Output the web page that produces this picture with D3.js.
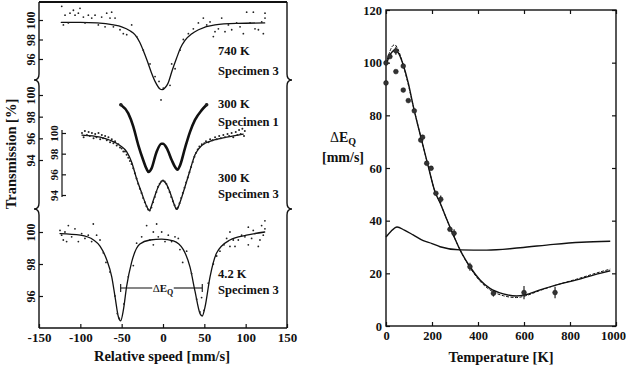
<!DOCTYPE html>
<html>
<head>
<meta charset="utf-8">
<script src="https://cdn.jsdelivr.net/npm/d3@7"></script>
<style>
  body { margin: 0; background: #fff; }
  svg text { font-family: "Liberation Serif", Tinos, "Times New Roman", Times, "DejaVu Serif", serif !important; font-weight: bold; fill: #111; }
</style>
</head>
<body>
<svg id="chart" width="626" height="366"></svg>
<script>
// ---- left panel: Mossbauer spectra, [velocity mm/s, transmission %] ----
const spec740Pts = [[-122.5,101.4],[-118.5,100.5],[-120.5,99.5],[-114.5,99.7],[-112.5,100.7],[-108.4,101.0],
  [-106.4,100.5],[-102.4,100.7],[-100.4,101.2],[-96.3,100.3],[-94.3,99.7],[-90.3,100.5],[-86.2,100.2],
  [-82.2,100.5],[-78.2,99.5],[-74.2,100.3],[-70.1,99.3],[-68.1,100.7],[-64.1,100.2],[-62.1,100.8],
  [-60.0,99.3],[-58.0,100.2],[-52.0,99.0],[-48.0,98.6],[-43.9,98.5],[-37.9,99.5],[-31.8,98.3],
  [-23.8,96.9],[-15.7,95.5],[-9.6,94.2],[-4.8,93.7],[0.4,93.0],[-2.4,91.8],[8.5,93.3],[10.5,95.5],
  [14.6,95.0],[20.6,96.9],[24.6,98.0],[30.7,98.6],[36.7,99.1],[42.8,99.7],[48.8,100.2],[52.9,99.5],
  [56.9,99.8],[60.9,98.3],[62.9,98.8],[67.0,99.1],[71.0,100.2],[75.0,98.8],[79.1,99.5],[83.1,99.0],
  [89.1,99.7],[93.2,99.3],[97.2,98.6],[101.2,100.8],[105.3,99.7],[109.3,100.8],[111.3,99.1],
  [115.4,99.0],[119.4,99.8],[121.4,98.6],[123.4,100.7],[123.4,100.2]];
const spec740Fit = [[-123,99.75],[-100,99.75],[-80,99.7],[-60,99.5],[-50,99.3],[-40,98.9],[-34,98.5],
  [-28,97.7],[-24,96.9],[-19,95.8],[-14,94.6],[-9,93.6],[-4,92.95],[-1,92.85],[3,93.1],[6,93.5],
  [11,94.8],[16.5,96.1],[21,97.1],[26.6,97.9],[35,98.6],[43,99.0],[63,99.5],[90,99.65],[123,99.7]];

const spec300s1Fit = [[-51,99.1],[-42,98.3],[-36,97.1],[-30,95.4],[-24,94.0],[-20,93.2],[-17.5,92.9],
  [-14,93.2],[-8,94.7],[-2,95.5],[0,95.5],[4.5,95.1],[10.5,94.0],[15,93.3],[17.5,93.1],[20.6,93.5],
  [26.6,95.1],[32.7,96.6],[38.7,97.7],[46.8,98.6],[52.8,99.1]];

const spec300s3Fit = [[-98,99.8],[-76,99.6],[-64,99.3],[-52,98.8],[-44,98.2],[-38,97.2],[-32,95.6],
  [-25.8,94.2],[-19.7,92.9],[-16.6,92.5],[-11.7,93.5],[-5.7,94.8],[-0.4,95.4],[4.5,95.0],[10.5,93.8],
  [13,93.2],[16.6,92.6],[20.6,93.3],[26.6,94.8],[32.7,96.4],[38.7,97.9],[46.8,98.8],[60.9,99.3],
  [77,99.6],[97,99.9]];
const spec300s3Pts = [[-98,100.0],[-96,99.6],[-94.5,100.2],[-92,99.8],[-90,100.1],[-88.5,99.7],[-86,100.0],
  [-84,99.5],[-82,99.9],[-80.5,99.6],[-78,100.0],[-76,99.4],[-74,99.8],[-72.5,99.5],[-70,99.7],
  [-68,99.3],[-66,99.6],[-64,99.1],[-62,99.4],[-60,99.0],[-58,99.2],[-56,98.8],[-54,98.9],[-52,98.6],
  [-50,98.5],[-48,98.2],[-46,98.2],[-44,97.9],[-42,97.6],[-40,97.3],[-38,97.0],[-36,96.6],[-34,96.1],
  [-32,95.6],[-30,95.1],[-28,94.6],[-26,94.2],[-24,93.7],[-22,93.3],[-20,92.9],[-18,92.6],[-16,92.5],
  [-14,92.8],[-12,93.3],[-10,93.8],[-8,94.3],[-6,94.8],[-4,95.1],[-2,95.3],[0,95.4],[2,95.3],[4,95.1],
  [6,94.7],[8,94.3],[10,93.8],[12,93.4],[14,93.0],[16,92.7],[18,92.8],[20,93.2],[22,93.7],[24,94.2],
  [26,94.7],[28,95.2],[30,95.7],[32,96.2],[34,96.7],[36,97.2],[38,97.7],[40,98.1],[42,98.4],[44,98.7],
  [47,98.9],[50,99.0],[52,99.2],[55,99.1],[57,99.4],[60,99.3],[63,99.6],[65,99.4],[68,99.7],[70,99.5],
  [73,99.8],[75,99.6],[78,99.9],[80,99.7],[83,100.0],[85,99.6],[88,100.1],[90,99.8],[92,100.3],
  [94,99.9],[96,100.4],[98,99.7],[99,100.2]];

const spec42Fit = [[-124.6,99.9],[-100,99.8],[-84,99.5],[-76,99.1],[-68,98.25],[-62,97.2],[-58,95.95],
  [-54,94.7],[-51.2,94.45],[-48,95.1],[-44,96.6],[-38,98.1],[-28,99.25],[-15.7,99.5],[-1.6,99.56],
  [12.5,99.45],[24.6,98.9],[32.7,97.8],[38.7,96.3],[44.8,94.9],[47.5,94.75],[50.8,95.3],[56.9,97.2],
  [65,98.7],[81,99.5],[101,99.8],[123,100.0]];
const spec42Pts = [[-124.6,100.1],[-122.6,99.8],[-120.6,99.5],[-118.6,100.0],[-116.6,99.4],[-114.5,100.4],
  [-110.5,99.7],[-106.5,100.2],[-102.4,99.4],[-98.4,99.9],[-94.4,99.6],[-90.4,99.8],[-86.3,99.4],
  [-84.3,100.5],[-80.3,99.8],[-76.2,99.5],[-72.2,98.7],[-69.0,98.1],[-64.1,97.5],[-58.1,96.0],
  [-55.3,94.9],[-52.9,94.6],[-47.2,95.5],[-42.0,97.2],[-35.9,97.9],[-31.9,99.3],[-25.8,99.7],
  [-19.8,100.4],[-15.8,99.5],[-11.7,100.0],[-7.7,100.5],[-5.7,99.7],[-1.6,100.0],[2.4,99.4],[6.4,99.8],
  [10.4,99.4],[14.5,99.7],[20.5,98.9],[23.8,98.1],[28.6,98.8],[34.6,97.4],[40.7,95.8],[44.7,95.0],
  [49.6,95.1],[54.8,96.8],[60.9,98.0],[64.9,98.5],[68.9,98.8],[73.8,99.2],[77.0,99.6],[81.0,100.0],
  [85.0,99.5],[91.1,99.5],[95.1,99.8],[99.1,99.7],[103.2,99.2],[107.2,99.6],[111.2,99.9],[115.3,99.1],
  [119.3,100.4],[121.3,99.8],[123.3,100.7],[117.3,99.5],[123.3,100.2],[109.2,100.1],[103.2,100.3],
  [87.1,99.1],[18.5,99.6],[-11.7,99.2],[46.7,95.9],[81.0,99.1]];

const velTicks = [-150, -100, -50, 0, 50, 100, 150];
const seg1Ticks = [96, 98, 100];
const seg2Ticks = [94, 96, 98, 100];
const seg3Ticks = [96, 98, 100];
const specLabels = [["740 K", "Specimen 3"], ["300 K", "Specimen 1"], ["300 K", "Specimen 3"], ["4.2 K", "Specimen 3"]];

// ---- right panel: quadrupole splitting vs temperature ----
const fitSolid = [[0,99.1],[10,101.5],[20,103.3],[30,104.4],[43,104.8],[55,103.5],[75,99.1],[97,92.2],
  [119,83.3],[140,75.7],[162,68.1],[184,60.5],[213,51],[235,46.8],[264,40.5],[293,34.5],[322,28.9],
  [365,22.5],[409,17.5],[452,14.3],[510,12.2],[568,11.4],[604,11.8],[670,13.7],[742,15.6],[829,17.5],
  [930,20],[975,21]];
const fitDashed = [[0,99.5],[10,102.5],[20,105],[30,106.5],[38,106.8],[50,105.5],[65,102],[80,97.5],
  [100,90.5],[119,83.3],[140,75.7],[162,68.1],[184,60.5],[213,51],[235,46.8],[264,40.5],[293,34.5],
  [322,28.9],[365,22.2],[409,17.0],[452,13.7],[510,11.5],[568,10.8],[604,11.4],[670,13.5],[742,15.6],
  [829,17.8],[930,20.5],[975,21.6]];
const fitLower = [[0,33.8],[20,35.8],[48,37.6],[80,36.4],[118,34.6],[162,32.4],[200,31.3],[235,30.1],
  [322,28.9],[438,28.8],[583,29.7],[728,31.0],[850,31.8],[975,32.2]];
// [T, dEq, error bar half-length]
const tempPts = [[0,99.9,0],[0,92.3,0],[17,102.3,0],[43,104.5,1.5],[43,96.6,0],[75,98.7,0],[75,89.6,0],
  [97,85.6,0],[123,81.7,0],[151,70.6,0],[159,71.7,0],[177,61.8,0],[196,59.9,0],[217,50.4,0],
  [238,48.1,1.5],[278,36.7,0],[296,35.2,1.5],[365,22.5,1.5],[467,12.4,1.2],[600,12.7,2.5],[735,12.7,2.2]];
const tempTicks = [0, 200, 400, 600, 800, 1000];
const dEqTicks = [0, 20, 40, 60, 80, 100, 120];

const svg = d3.select('#chart');
const ink = '#111';

// ---------- left panel ----------
const xV = d3.scaleLinear().domain([-150, 150]).range([39, 287]);
const y1 = d3.scaleLinear().domain([96, 100]).range([59, 20]);
const y2 = d3.scaleLinear().domain([94, 100]).range([160, 95]);
const y2i = d3.scaleLinear().domain([94, 100]).range([195, 133]);
const y3 = d3.scaleLinear().domain([96, 100]).range([296, 232]);
const leftTop = 2, leftBottom = 328, breaks = [80, 209];

const left = svg.append('g');

function spine(x, dir) {
  let p = `M${x},${leftTop}`;
  breaks.forEach(b => {
    p += `L${x},${b - 6}Q${x},${b} ${x + dir * 5},${b}Q${x},${b} ${x},${b + 6}`;
  });
  return p + `L${x},${leftBottom}`;
}
left.append('path').attr('d', spine(39, -1)).attr('fill', 'none').attr('stroke', ink).attr('stroke-width', 1.4);
left.append('path').attr('d', spine(287, 1)).attr('fill', 'none').attr('stroke', ink).attr('stroke-width', 1.4);
left.append('line').attr('x1', 39).attr('x2', 287).attr('y1', leftTop).attr('y2', leftTop)
  .attr('stroke', ink).attr('stroke-width', 2);
left.append('line').attr('x1', 39).attr('x2', 287).attr('y1', leftBottom).attr('y2', leftBottom)
  .attr('stroke', ink).attr('stroke-width', 1.4);

// x axis
const xAx = left.append('g').attr('transform', `translate(0,${leftBottom})`)
  .call(d3.axisBottom(xV).tickValues(velTicks).tickSizeInner(-4).tickSizeOuter(0).tickFormat(d => String(d)));
xAx.select('.domain').remove();
xAx.selectAll('line').attr('stroke', ink).attr('stroke-width', 1.2);
xAx.selectAll('text').attr('y', 14).attr('dy', 0).style('font-size', '13px').attr('fill', ink);

// rotated y axes
function rotAxis(scale, ticks, x, size) {
  const a = left.append('g').attr('transform', `translate(${x},0)`)
    .call(d3.axisLeft(scale).tickValues(ticks).tickSizeInner(-4).tickSizeOuter(0).tickFormat(d => String(d)));
  a.select('.domain').remove();
  a.selectAll('line').attr('stroke', ink).attr('stroke-width', 1.2);
  a.selectAll('text').attr('transform', 'rotate(-90)').attr('x', 0).attr('y', -4).attr('dy', 0)
    .attr('text-anchor', 'middle').style('font-size', size + 'px').attr('fill', ink);
  return a;
}
rotAxis(y1, seg1Ticks, 39, 12);
rotAxis(y2, seg2Ticks, 39, 12);
rotAxis(y3, seg3Ticks, 39, 12);
rotAxis(y2i, seg2Ticks, 62, 11);
left.append('line').attr('x1', 62).attr('x2', 62).attr('y1', y2i(100.3)).attr('y2', y2i(93.8))
  .attr('stroke', ink).attr('stroke-width', 1.2);

left.append('text').attr('transform', 'translate(16,154) rotate(-90)').attr('text-anchor', 'middle')
  .style('font-size', '14.5px').text('Transmission [%]');
left.append('text').attr('x', 162).attr('y', 361).attr('text-anchor', 'middle')
  .style('font-size', '14.5px').text('Relative speed [mm/s]');

// spectra
function drawSpectrum(fit, pts, ys, width, r) {
  const line = d3.line().x(d => xV(d[0])).y(d => ys(d[1])).curve(d3.curveMonotoneX);
  left.append('path').datum(fit).attr('d', line).attr('fill', 'none')
    .attr('stroke', ink).attr('stroke-width', width).attr('stroke-linecap', 'round');
  left.append('g').selectAll('circle').data(pts).join('circle')
    .attr('cx', d => xV(d[0])).attr('cy', d => ys(d[1])).attr('r', r).attr('fill', '#222');
}
drawSpectrum(spec740Fit, spec740Pts, y1, 1.3, 0.9);
drawSpectrum(spec300s1Fit, [spec300s1Fit[0], spec300s1Fit[spec300s1Fit.length - 1]], y2, 2.6, 1.8);
drawSpectrum(spec300s3Fit, spec300s3Pts, y2i, 1.3, 1.0);
drawSpectrum(spec42Fit, spec42Pts, y3, 1.3, 0.9);

// spectrum labels
const labelY = [[55, 75], [108, 126], [182, 198], [278, 294]];
specLabels.forEach((l, i) => {
  left.append('text').attr('x', 218).attr('y', labelY[i][0]).style('font-size', '12.5px').text(l[0]);
  left.append('text').attr('x', 218).attr('y', labelY[i][1]).style('font-size', '12.5px').text(l[1]);
});

// Delta E_Q marker on the 4.2 K spectrum
const qy = 288, qa = xV(-51.2), qb = xV(47.5);
left.append('line').attr('x1', qa).attr('x2', xV(-13)).attr('y1', qy).attr('y2', qy).attr('stroke', ink).attr('stroke-width', 1.1);
left.append('line').attr('x1', xV(13)).attr('x2', qb).attr('y1', qy).attr('y2', qy).attr('stroke', ink).attr('stroke-width', 1.1);
[qa, qb].forEach(x => left.append('line').attr('x1', x).attr('x2', x).attr('y1', qy - 4).attr('y2', qy + 4)
  .attr('stroke', ink).attr('stroke-width', 1.1));
const dq = left.append('text').attr('x', xV(0)).attr('y', qy + 4).attr('text-anchor', 'middle')
  .style('font-size', '11px');
dq.append('tspan').style('font-weight', 'normal').text('\u0394');
dq.append('tspan').text('E');
dq.append('tspan').attr('dy', 3).style('font-size', '8px').text('Q');

// ---------- right panel ----------
const xT = d3.scaleLinear().domain([0, 1000]).range([386, 616]);
const yE = d3.scaleLinear().domain([0, 120]).range([326, 10]);
const right = svg.append('g');

right.append('rect').attr('x', xT(0)).attr('y', yE(120)).attr('width', xT(1000) - xT(0))
  .attr('height', yE(0) - yE(120)).attr('fill', 'none').attr('stroke', ink).attr('stroke-width', 1.4);

function styleAxis(a, labels) {
  a.select('.domain').remove();
  a.selectAll('line').attr('stroke', ink).attr('stroke-width', 1.2);
  a.selectAll('text').style('font-size', '12.5px').attr('fill', ink);
  if (!labels) a.selectAll('text').remove();
  return a;
}
const xb = styleAxis(right.append('g').attr('transform', `translate(0,${yE(0)})`)
  .call(d3.axisBottom(xT).tickValues(tempTicks).tickSizeInner(-4).tickSizeOuter(0).tickFormat(d => String(d))), true);
xb.selectAll('text').attr('y', 14).attr('dy', 0).attr('x', d => d === 1000 ? -3 : 0);
styleAxis(right.append('g').attr('transform', `translate(0,${yE(120)})`)
  .call(d3.axisTop(xT).tickValues(tempTicks).tickSizeInner(-4).tickSizeOuter(0)), false);
const yl = styleAxis(right.append('g').attr('transform', `translate(${xT(0)},0)`)
  .call(d3.axisLeft(yE).tickValues(dEqTicks).tickSizeInner(-4).tickSizeOuter(0).tickFormat(d => String(d))), true);
yl.selectAll('text').attr('x', -4);
styleAxis(right.append('g').attr('transform', `translate(${xT(1000)},0)`)
  .call(d3.axisRight(yE).tickValues(dEqTicks).tickSizeInner(-4).tickSizeOuter(0)), false);

const tLine = d3.line().x(d => xT(d[0])).y(d => yE(d[1])).curve(d3.curveMonotoneX);
right.append('path').datum(fitLower).attr('d', tLine).attr('fill', 'none').attr('stroke', ink).attr('stroke-width', 1.4);
right.append('path').datum(fitDashed).attr('d', tLine).attr('fill', 'none').attr('stroke', ink)
  .attr('stroke-width', 1).attr('stroke-dasharray', '3,1.5');
right.append('path').datum(fitSolid).attr('d', tLine).attr('fill', 'none').attr('stroke', ink).attr('stroke-width', 1.4);

const pg = right.append('g');
pg.selectAll('line.err').data(tempPts.filter(d => d[2] > 0)).join('line').attr('class', 'err')
  .attr('x1', d => xT(d[0])).attr('x2', d => xT(d[0]))
  .attr('y1', d => yE(d[1] + d[2])).attr('y2', d => yE(d[1] - d[2]))
  .attr('stroke', ink).attr('stroke-width', 1.1);
pg.selectAll('circle').data(tempPts).join('circle')
  .attr('cx', d => xT(d[0])).attr('cy', d => yE(d[1])).attr('r', 2.4)
  .attr('fill', '#333').attr('stroke', '#111').attr('stroke-width', 0.5);

right.append('text').attr('x', 501).attr('y', 362).attr('text-anchor', 'middle')
  .style('font-size', '14.5px').text('Temperature [K]');
const de = right.append('text').attr('x', 343).attr('y', 142).attr('text-anchor', 'middle').style('font-size', '14px');
de.append('tspan').style('font-weight', 'normal').text('\u0394');
de.append('tspan').text('E');
de.append('tspan').attr('dy', 3).style('font-size', '10px').text('Q');
right.append('text').attr('x', 343).attr('y', 162).attr('text-anchor', 'middle').style('font-size', '14px').text('[mm/s]');
</script>
</body>
</html>
